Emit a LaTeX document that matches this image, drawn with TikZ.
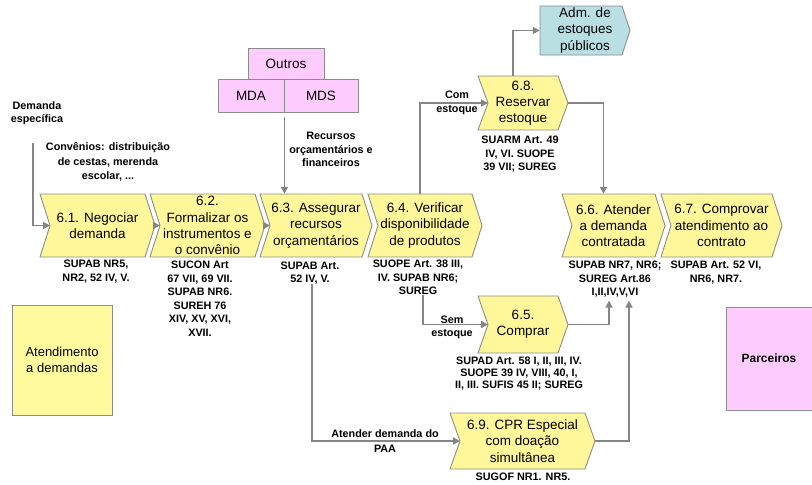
\documentclass[tikz,border=0pt]{standalone}
\usepackage{fontspec}
\setmainfont{Liberation Sans}
\usetikzlibrary{arrows.meta,calc}
\definecolor{chevy}{HTML}{FFF799}
\definecolor{boxy}{HTML}{FFFA9E}
\definecolor{pinkb}{HTML}{FFCCFF}
\definecolor{tealb}{HTML}{B9DFE3}
\definecolor{bordg}{HTML}{8C8C8C}
\definecolor{lineg}{HTML}{858585}
\tikzset{
  chev/.style={draw=bordg, fill=chevy, line width=0.9pt, line join=miter},
  chevtext/.style={align=center, font=\fontsize{13.5}{16.3}\selectfont, inner sep=0pt},
  lbl/.style={align=center, font=\bfseries\fontsize{10.8}{13.5}\selectfont, inner sep=0pt},
  conn/.style={draw=lineg, line width=1.7pt},
  arr/.style={conn, -{Triangle[length=7pt,width=7pt]}},
  pinkbox/.style={draw=bordg, fill=pinkb, line width=0.9pt, inner sep=0pt, font=\fontsize{13.5}{16}\selectfont},
  plainbox/.style={draw=bordg, line width=0.9pt, inner sep=0pt, align=center}
}
% name, x1, x2, ytop, ybot, text
\newcommand\mychev[6]{%
  \pgfmathsetmacro\cymid{(#4+#5)/2}%
  \pgfmathsetmacro\cxmid{(#2+#3)/2}%
  \pgfmathsetmacro\cwid{#3-#2}%
  \pgfmathsetmacro\chgt{#5-#4}%
  \path[chev] (#2,#4) -- ({#3-10},#4) -- (#3,\cymid) -- ({#3-10},#5) -- (#2,#5) -- ({#2+10},\cymid) -- cycle;
  \coordinate (#1-in) at ({#2+10},\cymid);
  \coordinate (#1-out) at (#3,\cymid);
  \node[chevtext, minimum width=\cwid pt, minimum height=\chgt pt] (#1) at (\cxmid,\cymid) {#6};
}
\begin{document}
\begin{tikzpicture}[x=1pt,y=-1pt]
\useasboundingbox (0,0) rectangle (812,485);

% side boxes
\node[plainbox, fill=boxy, minimum width=100pt, minimum height=110pt, font=\fontsize{13}{16}\selectfont] (aten) at (62,360) {Atendimento\\a demandas};
\node[plainbox, fill=pinkb, minimum width=86pt, minimum height=103pt, font=\bfseries\fontsize{12}{15}\selectfont] (parc) at (769,358.5) {Parceiros};

% pink boxes
\node[pinkbox, minimum width=76pt, minimum height=31pt] (outros) at (286,63.5) {Outros};
\node[pinkbox, minimum width=66pt, minimum height=33pt] (MDA) at (251,95.5) {MDA};
\node[pinkbox, minimum width=74pt, minimum height=33pt] (MDS) at (321,95.5) {MDS};

% Adm box
\path[draw=bordg, fill=tealb, line width=0.9pt] (540,6) -- (622,6) -- (630,30.5) -- (622,55) -- (540,55) -- cycle;
\node[chevtext, minimum width=90pt, minimum height=49pt] (adm) at (585,30.5) {Adm. de\\estoques\\públicos};

% chevrons
\mychev{n61}{40}{155}{194}{257}{6.1. Negociar\\demanda}
\mychev{n62}{150}{265}{194}{257}{6.2.\\Formalizar os\\instrumentos e\\o convênio}
\mychev{n63}{260}{372}{194}{257}{6.3. Assegurar\\recursos\\orçamentários}
\mychev{n64}{368}{482}{194}{257}{6.4. Verificar\\disponibilidade\\de produtos}
\mychev{n66}{562}{665}{194}{257}{6.6. Atender\\a demanda\\contratada}
\mychev{n67}{661}{782}{194}{257}{6.7. Comprovar\\atendimento ao\\contrato}
\mychev{n68}{478}{568}{76}{130}{6.8.\\Reservar\\estoque}
\mychev{n65}{478}{568}{296}{353}{6.5.\\Comprar}
\mychev{n69}{450}{595}{413}{469}{6.9. CPR Especial\\com doação\\simultânea}

% labels under chevrons
\node[lbl, anchor=north] (L61) at (96,260) {SUPAB NR5,\\NR2, 52 IV, V.};
\node[lbl, anchor=north] (L62) at (200,261) {SUCON Art\\67 VII, 69 VII.\\SUPAB NR6.\\SUREH 76\\XIV, XV, XVI,\\XVII.};
\node[lbl, anchor=north, font=\bfseries\fontsize{10.8}{12.5}\selectfont] (L63) at (310,262) {SUPAB Art.\\52 IV, V.};
\node[lbl, anchor=north] (L64) at (418,260) {SUOPE Art. 38 III,\\IV. SUPAB NR6;\\SUREG};
\node[lbl, anchor=north] (L68) at (520,136) {SUARM Art. 49\\IV, VI. SUOPE\\39 VII; SUREG};
\node[lbl, anchor=north, font=\bfseries\fontsize{10.8}{12}\selectfont] (L65) at (519,357) {SUPAD Art. 58 I, II, III, IV.\\SUOPE 39 IV, VIII, 40, I,\\II, III. SUFIS 45 II; SUREG};
\node[lbl, anchor=north] (L66) at (615,261) {SUPAB NR7, NR6;\\SUREG Art.86\\I,II,IV,V,VI};
\node[lbl, anchor=north] (L67) at (716,261) {SUPAB Art. 52 VI,\\NR6, NR7.};
\node[lbl, anchor=north] (L69) at (523,473) {SUGOF NR1. NR5.};

% free labels
\node[lbl] (dem) at (37,113) {Demanda\\específica};
\node[lbl, font=\bfseries\fontsize{10.8}{14.5}\selectfont] (conv) at (108,162) {Convênios: distribuição\\de cestas, merenda\\escolar, ...};
\node[lbl] (rec) at (331,149.5) {Recursos\\orçamentários e\\financeiros};
\node[lbl] (com) at (457,103) {Com\\estoque};
\node[lbl] (sem) at (452,327.5) {Sem\\estoque};
\node[lbl, font=\bfseries\fontsize{10.8}{15}\selectfont] (paa) at (385,441.5) {Atender demanda do\\PAA};

\coordinate (dstart) at (33,143);

% connectors
\draw[arr] (dstart) |- (n61-in);
\draw[arr] (n61-out) -- (n62-in);
\draw[arr] (n62-out) -- (n63-in);
\draw[arr] ([yshift=-5pt]MDA.south east) -- (MDA.south east |- n63.north);
\draw[arr] ([xshift=-5pt]n64.north) |- (n68-in);
\draw[arr] ([xshift=5pt]L64.south) |- (n65-in);
\draw[arr] ([xshift=2pt]L63.south) |- (n69-in);
\draw[arr] ([xshift=-10pt]n68.north) |- (adm.west);
\draw[arr] (n68-out) -| ([xshift=-10pt]n66.north);
\draw[arr] (n65-out) -| ([xshift=-6pt,yshift=-3pt]L66.south);
\draw[arr] (n69-out) -| ([xshift=14pt,yshift=-3pt]L66.south);
\end{tikzpicture}
\end{document}
